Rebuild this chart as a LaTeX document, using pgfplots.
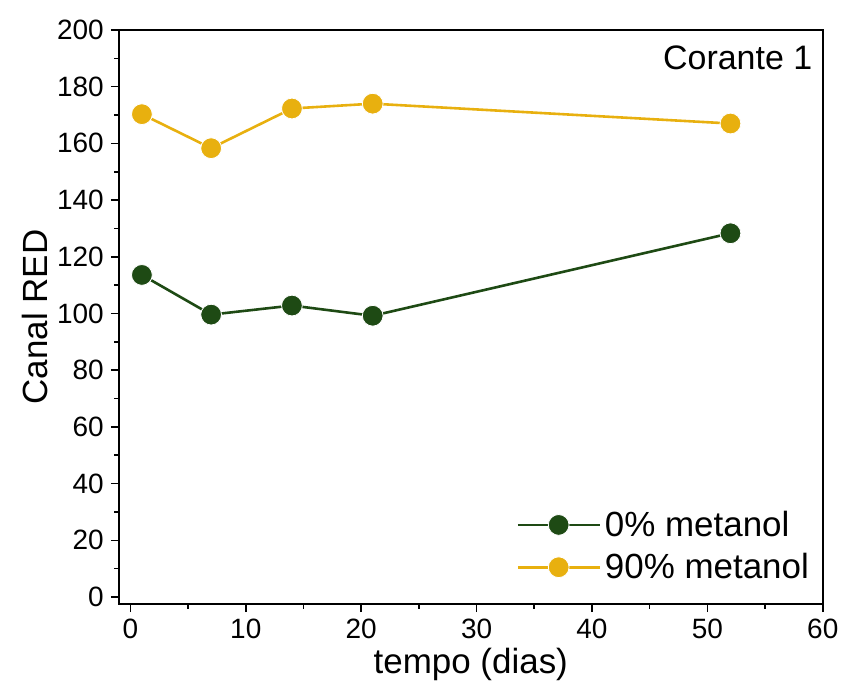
\documentclass[border=0pt]{standalone}
\usepackage{fontspec}
\setmainfont{Liberation Sans}
\usepackage{pgfplots}
\pgfplotsset{compat=1.18}
\definecolor{cgreen}{HTML}{1E4A14}
\definecolor{cyellow}{HTML}{E8B00F}
\begin{document}
\begin{tikzpicture}
\begin{axis}[
  at={(0,0)}, anchor=south west,
  scale only axis, width=352.5pt, height=287.5pt,
  xmin=-1, xmax=60, ymin=-2.5, ymax=200,
  xtick={0,10,...,60}, ytick={0,20,...,200},
  minor xtick={5,15,...,55}, minor ytick={10,30,...,190},
  tick align=outside, xtick pos=bottom, ytick pos=left,
  major tick length=4pt, minor tick length=2.2pt,
  every tick/.style={black, line width=0.8pt},
  axis line style={line width=0.8pt},
  /pgf/number format/assume math mode=true,
  tick label style={font=\fontsize{14}{16}\selectfont},
  label style={font=\fontsize{17.5}{20}\selectfont},
  xlabel={tempo (dias)}, ylabel={Canal RED},
  xlabel style={yshift=2pt},
  ylabel style={yshift=-2pt},
  legend style={at={(0.995,0.025)}, anchor=south east, draw=none, fill=none,
    font=\fontsize{17.5}{20}\selectfont, row sep=3pt,
    /tikz/every odd column/.style={xshift=0pt}},
  legend cell align=left,
  legend image code/.code={\draw[mark repeat=2,mark phase=2] plot coordinates {(0cm,0cm)(0.72cm,0cm)(1.44cm,0cm)};},
]
\addplot[color=cgreen, line width=1.3pt, mark=*, mark size=5.2pt, mark options={fill=cgreen, draw=white, line width=0.4pt}]
  coordinates {(1,113.6) (7,99.6) (14,102.8) (21,99.2) (52,128.3)};
\addlegendentry{0\% metanol}
\addplot[color=cyellow, line width=1.3pt, mark=*, mark size=5.2pt, mark options={fill=cyellow, draw=white, line width=0.4pt}]
  coordinates {(1,170.3) (7,158.3) (14,172.3) (21,174.0) (52,167.0)};
\addlegendentry{90\% metanol}
\node[anchor=north east, font=\fontsize{17}{20}\selectfont] at (rel axis cs:0.995,0.985) {Corante 1};
\end{axis}
\path (-59.5pt,-40.5pt) rectangle (363pt,302.5pt);
\end{tikzpicture}
\end{document}
